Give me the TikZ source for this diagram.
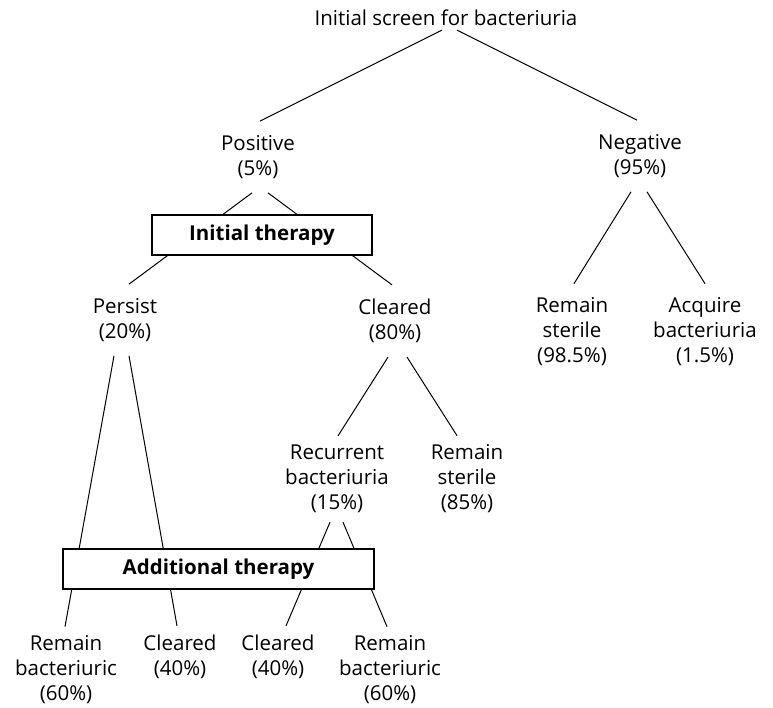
\documentclass[tikz,border=0pt]{standalone}
\usepackage{fontspec}
\setmainfont{Open Sans}
\begin{document}
\begin{tikzpicture}[x = 1pt, y = -1pt]
    \useasboundingbox (0,0) rectangle (773,707);
    \begin{scope}[every node/.append style = {font = \fontsize{20.5}{25}\selectfont, align = center, inner xsep = 2pt, inner ysep = 14pt}]
        \node[inner ysep = 4pt] (screen) at (446,18) {Initial screen for bacteriuria};
        \node (positive) at (258,157) {Positive\\(5\%)};
        \node (negative) at (640,156) {Negative\\(95\%)};
        \node (persist) at (125,320) {Persist\\(20\%)};
        \node (cleared) at (395,321) {Cleared\\(80\%)};
        \node (sterileA) at (572,332) {Remain\\sterile\\(98.5\%)};
        \node (acquire) at (705,332) {Acquire\\bacteriuria\\(1.5\%)};
        \node[inner ysep = 9pt] (recurrent) at (337,479) {Recurrent\\bacteriuria\\(15\%)};
        \node[inner ysep = 9pt] (sterileB) at (467,479) {Remain\\sterile\\(85\%)};
        \node[inner ysep = 9pt] (remainA) at (66,670) {Remain\\bacteriuric\\(60\%)};
        \node[inner ysep = 9pt] (clearedA) at (180,657) {Cleared\\(40\%)};
        \node[inner ysep = 9pt] (clearedB) at (278,657) {Cleared\\(40\%)};
        \node[inner ysep = 9pt] (remainB) at (390,670) {Remain\\bacteriuric\\(60\%)};
    \end{scope}
    \foreach \a/\sa/\b/\sb in {screen/-4/positive/2, screen/11/negative/-3,
            positive/-6/persist/4, positive/10/cleared/-3,
            negative/-9/sterileA/2, negative/7/acquire/0,
            persist/-11/remainA/-1, persist/4/clearedA/-3,
            cleared/-7/recurrent/1, cleared/12/sterileB/-10,
            recurrent/-7/clearedB/8, recurrent/6/remainB/-3}
        \draw[line width = 1pt] ([xshift = \sa]\a.south) -- ([xshift = \sb]\b.north);
    \begin{scope}[every node/.append style = {draw, line width = 2pt, fill = white, font = \fontsize{20.5}{25}\selectfont\bfseries}]
        \node[minimum width = 220pt, minimum height = 40pt] (initial) at (262,235) {Initial therapy};
        \node[minimum width = 311pt, minimum height = 40pt] (additional) at (218.5,569) {Additional therapy};
    \end{scope}
\end{tikzpicture}
\end{document}
